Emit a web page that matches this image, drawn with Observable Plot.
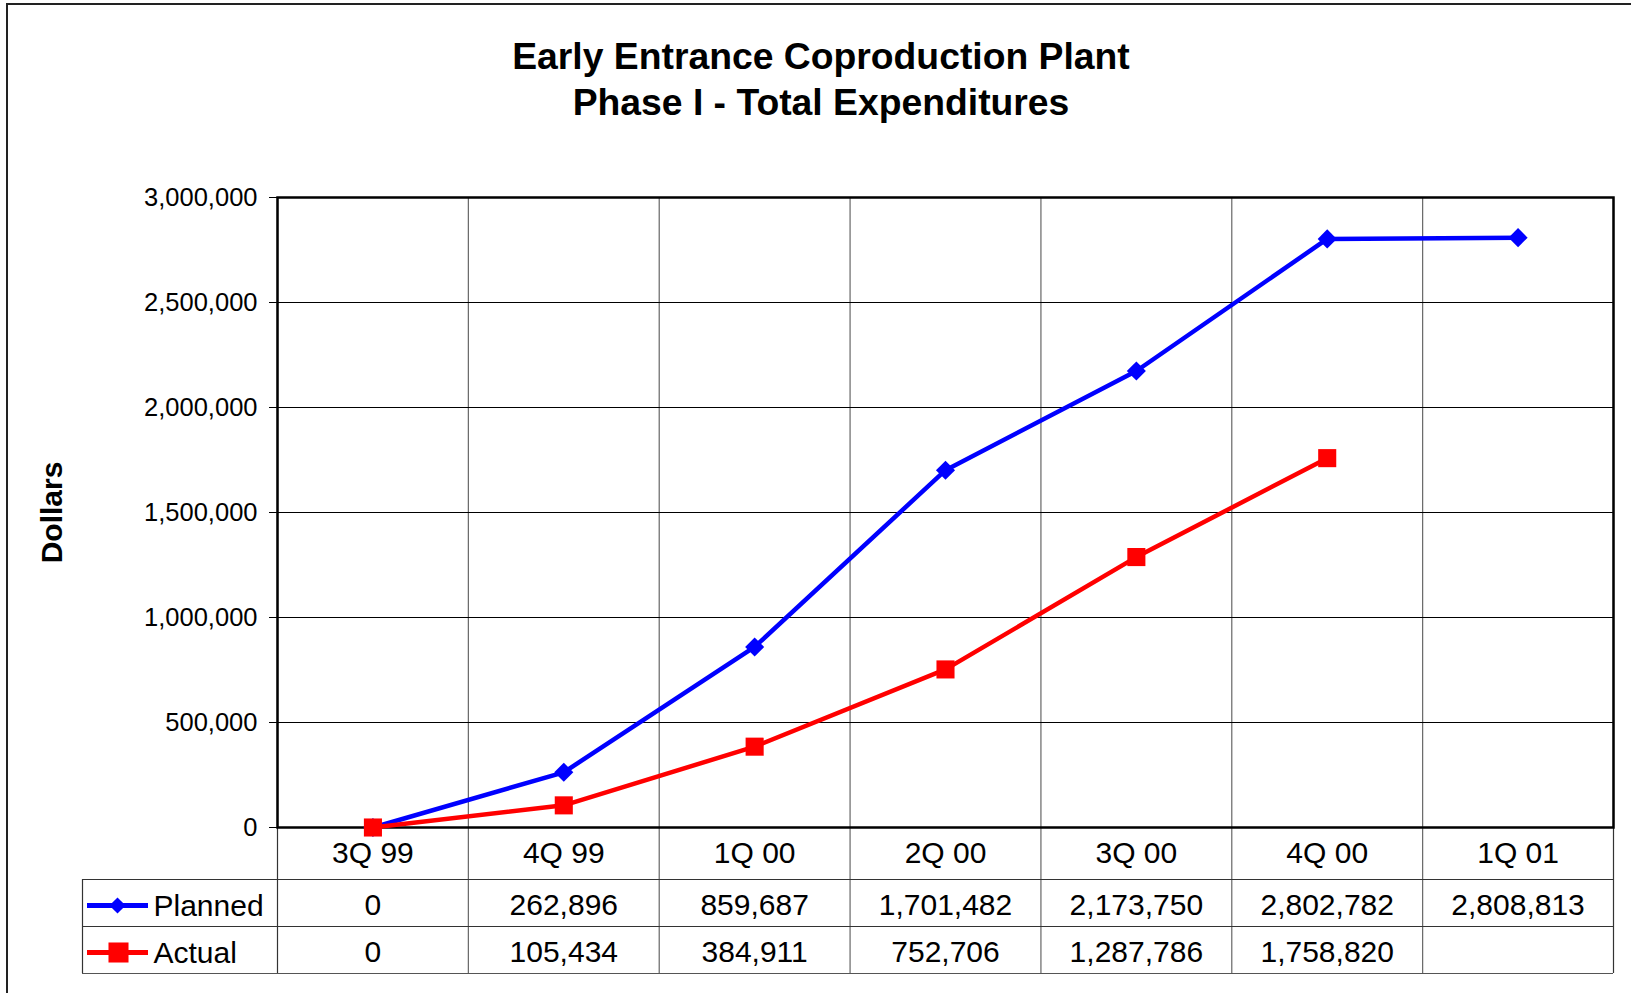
<!DOCTYPE html>
<html><head><meta charset="utf-8">
<script src="https://cdn.jsdelivr.net/npm/d3@7"></script>
<script src="https://cdn.jsdelivr.net/npm/@observablehq/plot@0.6"></script>
<style>
html,body{margin:0;padding:0;background:#fff;overflow:hidden;}
#wrap{position:relative;width:1631px;height:993px;font-family:"Liberation Sans",Arial,sans-serif;}
#frame{position:absolute;left:6px;top:3px;width:2000px;height:2000px;border-left:2px solid #222;border-top:2px solid #222;pointer-events:none;z-index:2}
#title{position:absolute;left:421px;width:800px;top:33px;text-align:center;font-weight:bold;font-size:37.3px;line-height:46px;color:#000;z-index:3}
#chart{position:absolute;left:0;top:0;}
</style></head><body>
<div id="wrap"><div id="chart"></div><div id="frame"></div><div id="title">Early Entrance Coproduction Plant<br>Phase I - Total Expenditures</div></div>
<script>
const categories = ["3Q 99","4Q 99","1Q 00","2Q 00","3Q 00","4Q 00","1Q 01"];
const planned = [0,262896,859687,1701482,2173750,2802782,2808813];
const actual = [0,105434,384911,752706,1287786,1758820,null];
const seriesNames = ["Planned","Actual"];
const yTicks = [0,500000,1000000,1500000,2000000,2500000,3000000];
const yLabel = "Dollars";

const fmt = d3.format(",");
const rows = categories.map((c,i)=>({i, category:c, planned:planned[i], actual:actual[i]}));
const bounds = d3.range(categories.length+1).map(i=>i-0.5);
const W=1631, H=993, ML=277, MR=18, MT=197, MB=166;
const innerH = H-MT-MB;
// table row offsets below the plot frame
const rowBottom = [52, 99, 146];
const rowCenter = [26, 78, 125];
const labelColLeft = -195;
const txt = 30;
const cell = {frameAnchor:"bottom", lineAnchor:"middle", fontSize:txt, fill:"#000"};

const chart = Plot.plot({
  width: W, height: H, marginLeft: ML, marginRight: MR, marginTop: MT, marginBottom: MB,
  style: {fontFamily:'"Liberation Sans", Arial, sans-serif', fontSize:"25.5px", color:"#000", background:"transparent", overflow:"visible"},
  x: {type:"linear", domain:[-0.5, categories.length-0.5], axis:null},
  y: {domain:[0,3000000], ticks:yTicks, tickFormat:fmt, tickSize:8, tickPadding:12, label:null},
  marks: [
    Plot.ruleX(bounds.slice(1,-1), {stroke:"#666", strokeWidth:1.2, insetBottom:-rowBottom[2]}),
    Plot.ruleX([bounds[0], bounds[bounds.length-1]], {stroke:"#333", strokeWidth:1.2, insetBottom:-rowBottom[2]}),
    Plot.ruleY(yTicks, {stroke:"#000", strokeWidth:1}),
    Plot.ruleY([0], {dy:rowBottom[0], insetLeft:labelColLeft, stroke:"#333", strokeWidth:1.2}),
    Plot.ruleY([0], {dy:rowBottom[1], insetLeft:labelColLeft, stroke:"#333", strokeWidth:1.2}),
    Plot.ruleY([0], {dy:rowBottom[2], insetLeft:labelColLeft, stroke:"#555", strokeWidth:1.2}),
    Plot.ruleX([bounds[0]], {dx:labelColLeft, insetTop:innerH+rowBottom[0], insetBottom:-rowBottom[2], stroke:"#333", strokeWidth:1.2}),
    Plot.frame({stroke:"#000", strokeWidth:2.5}),
    Plot.line(rows, {x:"i", y:"planned", stroke:"#0000ff", strokeWidth:4.5}),
    Plot.dot(rows, {x:"i", y:"planned", symbol:"diamond2", r:8.6, fill:"#0000ff"}),
    Plot.line(rows.filter(d=>d.actual!=null), {x:"i", y:"actual", stroke:"#ff0000", strokeWidth:4.5}),
    Plot.dot(rows.filter(d=>d.actual!=null), {x:"i", y:"actual", symbol:"square", r:10.2, fill:"#ff0000"}),
    // table
    Plot.text(rows, {x:"i", text:"category", dy:rowCenter[0], ...cell}),
    Plot.text(rows, {x:"i", text:d=>d.planned==null?"":fmt(d.planned), dy:rowCenter[1], ...cell}),
    Plot.text(rows, {x:"i", text:d=>d.actual==null?"":fmt(d.actual), dy:rowCenter[2], ...cell}),
    // legend keys in table
    Plot.ruleY([0], {dy:rowCenter[1], insetLeft:-190, insetRight:(W-MR-ML)-(148-ML), stroke:"#0000ff", strokeWidth:5}),
    Plot.dot([0], {frameAnchor:"bottom-left", dx:-160, dy:rowCenter[1], symbol:"diamond2", r:7.3, fill:"#0000ff"}),
    Plot.ruleY([0], {dy:rowCenter[2], insetLeft:-190, insetRight:(W-MR-ML)-(148-ML), stroke:"#ff0000", strokeWidth:5}),
    Plot.dot([0], {frameAnchor:"bottom-left", dx:-159, dy:rowCenter[2], symbol:"square", r:11.3, fill:"#ff0000"}),
    Plot.text([seriesNames[0]], {text:d=>d, ...cell, frameAnchor:"bottom-left", dx:-124, dy:rowCenter[1]+1, textAnchor:"start"}),
    Plot.text([seriesNames[1]], {text:d=>d, ...cell, frameAnchor:"bottom-left", dx:-124, dy:rowCenter[2]+1, textAnchor:"start"}),
    // y label
    Plot.text([yLabel], {text:d=>d, frameAnchor:"left", textAnchor:"middle", lineAnchor:"middle", dx:-225, rotate:-90, fontWeight:"bold", fontSize:txt, fill:"#000"})
  ]
});
document.getElementById("chart").appendChild(chart);
</script>
</body></html>
